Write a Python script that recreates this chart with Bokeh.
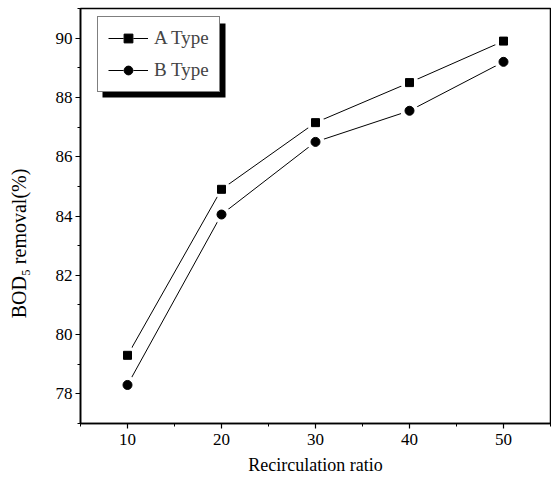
from bokeh.plotting import figure
from bokeh.models import Legend, LegendItem, FixedTicker, BoxAnnotation, Range1d
from bokeh.embed import file_html
from bokeh.resources import INLINE

# ---- data ----
x_ratio = [10, 20, 30, 40, 50]
a_type = [79.3, 84.9, 87.15, 88.5, 89.9]
b_type = [78.3, 84.05, 86.5, 87.55, 89.2]
x_ticks = [10, 20, 30, 40, 50]
x_minor = [5, 15, 25, 35, 45, 55]
y_ticks = [78, 80, 82, 84, 86, 88, 90]
y_minor = [77, 79, 81, 83, 85, 87, 89, 91]

FONT = "Liberation Serif"

FL, FT = 80, 8          # frame left / top (page pixels)
FW, FH = 470, 415
X0, X1 = 5, 55
Y0, Y1 = 77, 91

p = figure(frame_width=FW, frame_height=FH,
           x_range=Range1d(X0, X1), y_range=Range1d(Y0, Y1),
           output_backend="svg", toolbar_location=None,
           min_border_left=FL, min_border_right=1,
           min_border_top=FT, min_border_bottom=55)
p.xgrid.visible = False
p.ygrid.visible = False
p.outline_line_color = "black"
p.outline_line_width = 1.5
p.background_fill_color = "white"
p.border_fill_color = "white"

p.xaxis.ticker = FixedTicker(ticks=x_ticks, minor_ticks=x_minor)
p.yaxis.ticker = FixedTicker(ticks=y_ticks, minor_ticks=y_minor)
for ax in (p.xaxis, p.yaxis):
    ax.axis_line_width = 1.6
    ax.axis_line_color = "black"
    ax.major_tick_line_color = "black"
    ax.minor_tick_line_color = "black"
    ax.major_tick_line_width = 1.2
    ax.minor_tick_line_width = 1
    ax.major_tick_out = 5
    ax.major_tick_in = 0
    ax.minor_tick_out = 3
    ax.minor_tick_in = 0
    ax.major_label_text_font = FONT
    ax.major_label_text_font_size = "17px"
    ax.major_label_text_color = "black"
    ax.axis_label_text_font = FONT
    ax.axis_label_text_font_size = "18px"
    ax.axis_label_text_font_style = "normal"
    ax.axis_label_text_color = "black"

p.xaxis.axis_label = "Recirculation ratio"
p.xaxis.major_label_standoff = 5
p.xaxis.axis_label_standoff = 7
p.yaxis.major_label_standoff = 3
# trailing no-break spaces push the visible title a little below the frame centre
p.yaxis.axis_label = "BOD\u2085 removal(%)" + "\u00a0" * 11
p.yaxis.axis_label_text_font_size = "20px"
p.yaxis.axis_label_standoff = 23

la = p.line(x_ratio, a_type, line_color="black", line_width=1)
wa = p.scatter(x_ratio, a_type, marker="circle", size=17, fill_color="white", line_color="white")
ma = p.scatter(x_ratio, a_type, marker="square", size=8, fill_color="black", line_color="black")
lb = p.line(x_ratio, b_type, line_color="black", line_width=1)
wb = p.scatter(x_ratio, b_type, marker="circle", size=17, fill_color="white", line_color="white")
mb = p.scatter(x_ratio, b_type, marker="circle", size=9, fill_color="black", line_color="black")

def dx(px):
    return X0 + (px - FL) / FW * (X1 - X0)

def dy(py):
    return Y0 + (FT + FH - py) / FH * (Y1 - Y0)

shadow = BoxAnnotation(left=dx(102), right=dx(225), top=dy(23), bottom=dy(97),
                       fill_color="black", fill_alpha=1.0, line_alpha=0)
p.add_layout(shadow)

legend = Legend(items=[LegendItem(label="A Type", renderers=[la, wa, ma]),
                       LegendItem(label="B Type", renderers=[lb, wb, mb])],
                location=(17, FT + FH - 92), margin=0, padding=10, spacing=10,
                glyph_width=40, glyph_height=22, label_height=22, label_standoff=6,
                label_text_font=FONT, label_text_font_size="19px",
                border_line_color="black", border_line_width=1.5,
                background_fill_color="white", background_fill_alpha=1.0)
p.add_layout(legend)

open("out.html", "w").write(file_html(p, INLINE))
